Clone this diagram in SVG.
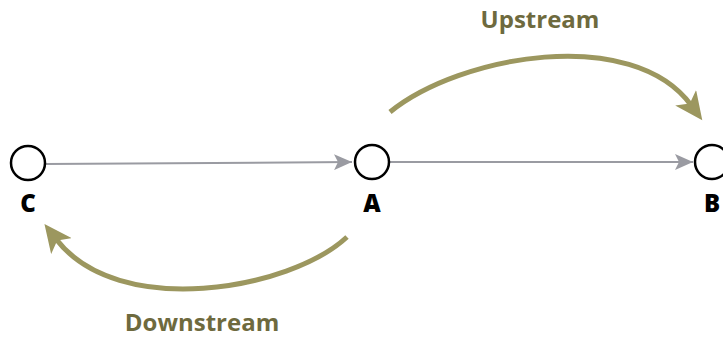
<svg xmlns="http://www.w3.org/2000/svg" width="723" height="341" viewBox="0 0 723 341">
<style>
.node{fill:#fff;stroke:#000;stroke-width:2.5}
.lbl{font-family:"Open Sans","Liberation Sans",sans-serif;font-weight:800;font-size:24px;fill:#000;text-anchor:middle}
.flow{fill:none;stroke:#9c975f;stroke-width:5}
.ftxt{font-family:"Open Sans","Liberation Sans",sans-serif;font-weight:bold;font-size:24px;fill:#6e6a3e;text-anchor:middle}
.edge{fill:none;stroke:#9a9ba2;stroke-width:2}
</style>
<defs>
<marker id="ga" markerUnits="userSpaceOnUse" markerWidth="20" markerHeight="16" refX="18" refY="8" orient="auto">
<path d="M0,0 L18,8 L0,16 L4,8 Z" fill="#9a9ba2"/>
</marker>
<marker id="oa" markerUnits="userSpaceOnUse" markerWidth="30" markerHeight="26" refX="9" refY="13" orient="auto">
<path d="M0,0 L28,13 L0,26 L7,13 Z" fill="#9c975f"/>
</marker>
</defs>
<g id="connectors">
<path class="edge" d="M45,164 L352,162" marker-end="url(#ga)"/>
<path class="edge" d="M389,162 L693,162" marker-end="url(#ga)"/>
<path class="flow" d="M390,112 C460,55 632,25 691,105" marker-end="url(#oa)"/>
<path class="flow" d="M347,237 C290,290 118,320 56,239" marker-end="url(#oa)"/>
</g>
<g id="node-C">
<circle class="node" cx="28" cy="163" r="17"/>
<text class="lbl" x="28" y="212">C</text>
</g>
<g id="node-A">
<circle class="node" cx="372" cy="162" r="17"/>
<text class="lbl" x="372" y="212">A</text>
</g>
<g id="node-B">
<circle class="node" cx="712" cy="162" r="17"/>
<text class="lbl" x="712" y="212">B</text>
</g>
<g id="labels">
<text class="ftxt" x="540" y="28">Upstream</text>
<text class="ftxt" x="202" y="331">Downstream</text>
</g>
</svg>
